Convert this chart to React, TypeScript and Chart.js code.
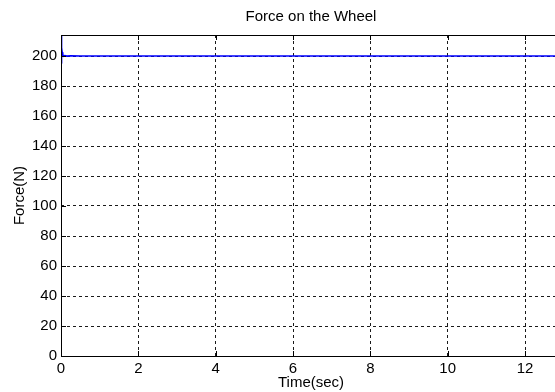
import React, { useEffect, useRef } from "react";
import { Chart, registerables } from "chart.js";

Chart.register(...registerables);

// Simulation time (s) and the wheel force (N) sampled from the run
const timeSec = [
  0, 0.004, 0.008, 0.012, 0.016, 0.02, 0.025, 0.03, 0.04, 0.05, 0.07, 0.1, 0.15, 0.25,
  0.5, 0.9, 1.3, 1.8, 2.3, 2.9, 3.4, 4.0, 4.6, 5.1, 5.7, 6.3, 6.8, 7.4, 8.0, 8.5,
  9.1, 9.7, 10.2, 10.8, 11.4, 11.9, 12.5, 12.93,
];
const forceN = [
  200, 216, 199, 211, 198.6, 206, 199.2, 202.5, 199.6, 200.8, 199.8, 200.2, 199.9, 200.1,
  200.05, 199.95, 200.05, 199.95, 200.05, 199.95, 200.05, 200, 199.95, 200.05, 199.95, 200.05, 199.95, 200.05,
  199.95, 200.05, 199.95, 200.05, 199.95, 200.05, 199.95, 200.05, 199.95, 200,
];

const xTicks = [0, 2, 4, 6, 8, 10, 12];
const yTicks = [0, 20, 40, 60, 80, 100, 120, 140, 160, 180, 200];
const xRange = [0, 12.93];
const yRange = [0, 214];

const chartTitle = "Force on the Wheel";
const xTitle = "Time(sec)";
const yTitle = "Force(N)";

const FONT = "'Liberation Sans', Arial, Helvetica, sans-serif";
const FONT_SIZE = 15;

// Draws the title, the axes box and the inward tick marks
const framePlugin = {
  id: "frame",
  afterDraw(chart: any) {
    const { ctx, chartArea } = chart;
    const { left, right, top, bottom } = chartArea;
    ctx.save();
    ctx.fillStyle = "#000";
    ctx.font = `${FONT_SIZE}px ${FONT}`;
    ctx.textAlign = "center";
    ctx.textBaseline = "middle";
    ctx.fillText(chartTitle, (left + right) / 2, 17);

    ctx.strokeStyle = "#000";
    ctx.lineWidth = 1;
    ctx.beginPath();
    ctx.rect(left + 0.5, top + 0.5, right - left - 1, bottom - top);
    ctx.stroke();

    const xs = chart.scales.x;
    const ys = chart.scales.y;
    const tl = 5;
    ctx.beginPath();
    xs.ticks.forEach((t: any) => {
      const px = Math.round(xs.getPixelForValue(t.value)) + 0.5;
      ctx.moveTo(px, bottom);
      ctx.lineTo(px, bottom - tl);
      ctx.moveTo(px, top);
      ctx.lineTo(px, top + tl);
    });
    ys.ticks.forEach((t: any) => {
      const py = Math.round(ys.getPixelForValue(t.value)) + 0.5;
      ctx.moveTo(left, py);
      ctx.lineTo(left + tl, py);
      ctx.moveTo(right, py);
      ctx.lineTo(right - tl, py);
    });
    ctx.stroke();
    ctx.restore();
  },
};

export default function App() {
  const canvasRef = useRef<HTMLCanvasElement | null>(null);

  useEffect(() => {
    const canvas = canvasRef.current;
    if (!canvas) return;
    const chart = new Chart(canvas, {
      type: "line",
      data: {
        datasets: [
          {
            data: timeSec.map((t, i) => ({ x: t, y: forceN[i] })),
            borderColor: "#0000ff",
            borderWidth: 1.6,
            pointRadius: 0,
            tension: 0,
          },
        ],
      },
      options: {
        animation: false,
        responsive: false,
        maintainAspectRatio: false,
        layout: { padding: { top: 35, right: 5, left: 0, bottom: 0 } },
        plugins: { legend: { display: false }, tooltip: { enabled: false }, title: { display: false } },
        scales: {
          x: {
            type: "linear",
            min: xRange[0],
            max: xRange[1],
            afterFit(scale: any) {
              scale.height = 36;
            },
            afterBuildTicks(scale: any) {
              scale.ticks = xTicks.map((v) => ({ value: v }));
            },
            ticks: {
              autoSkip: false,
              color: "#000",
              font: { family: FONT, size: FONT_SIZE },
              padding: 4,
              maxRotation: 0,
            },
            grid: {
              color: "#1a1a1a",
              lineWidth: 1,
              drawTicks: false,
            },
            border: { display: false, dash: [3, 3] },
            title: {
              display: true,
              text: xTitle,
              color: "#000",
              font: { family: FONT, size: FONT_SIZE },
              padding: { top: 0, bottom: 0 },
            },
          },
          y: {
            type: "linear",
            min: yRange[0],
            max: yRange[1],
            afterFit(scale: any) {
              scale.width = 61;
            },
            afterBuildTicks(scale: any) {
              scale.ticks = yTicks.map((v) => ({ value: v }));
            },
            ticks: {
              autoSkip: false,
              color: "#000",
              font: { family: FONT, size: FONT_SIZE },
              padding: 4,
            },
            grid: {
              color: "#1a1a1a",
              lineWidth: 1,
              drawTicks: false,
            },
            border: { display: false, dash: [3, 3] },
            title: {
              display: true,
              text: yTitle,
              color: "#000",
              font: { family: FONT, size: FONT_SIZE },
              padding: { top: 11, bottom: 0 },
            },
          },
        },
      },
      plugins: [framePlugin],
    });
    return () => chart.destroy();
  }, []);

  return (
    <div
      style={{
        position: "fixed",
        left: 0,
        top: 0,
        width: 555,
        height: 392,
        overflow: "hidden",
        background: "#fff",
      }}
    >
      <canvas ref={canvasRef} width={566} height={392} style={{ display: "block", width: 566, height: 392 }} />
    </div>
  );
}
